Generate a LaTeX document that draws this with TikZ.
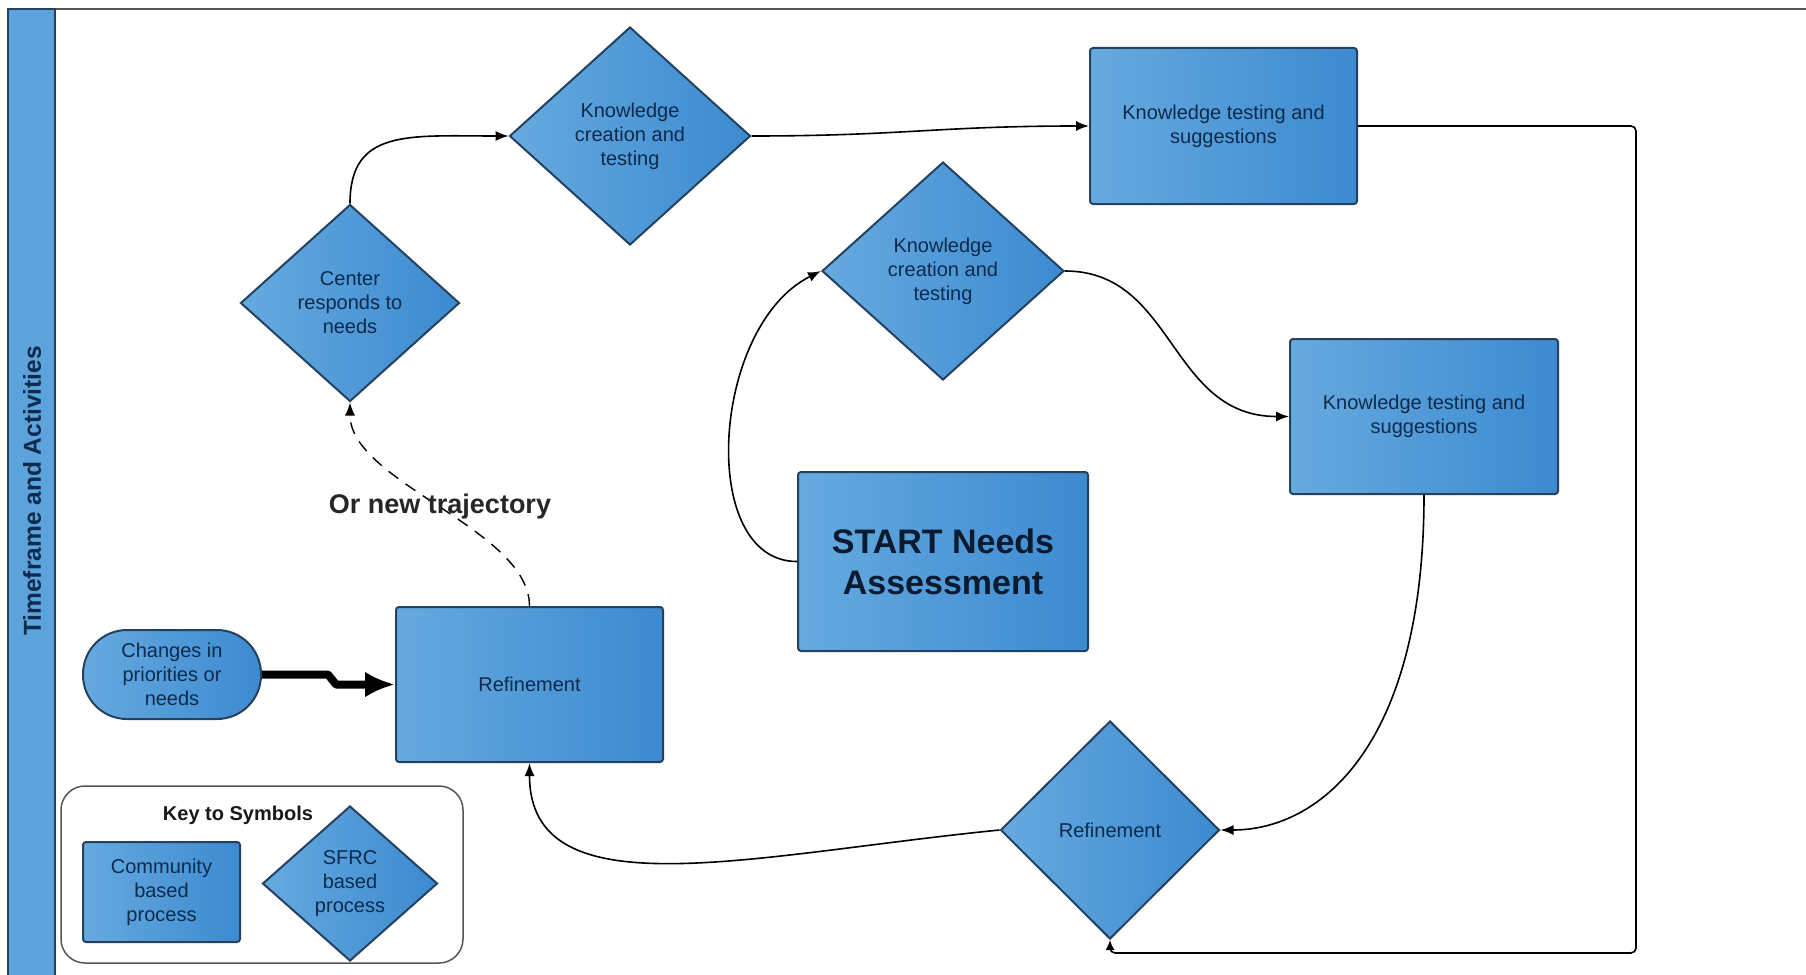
\documentclass[tikz,border=0pt]{standalone}
\usepackage{fontspec}
\setmainfont{Liberation Sans}
\usetikzlibrary{shapes.geometric,arrows.meta}
\definecolor{bl}{HTML}{66AADF}
\definecolor{br}{HTML}{3C8AD0}
\definecolor{barblue}{HTML}{5CA2DB}
\definecolor{edge}{HTML}{24425F}
\definecolor{txt}{HTML}{0E2A4C}
\definecolor{starttxt}{HTML}{0A1A30}
\definecolor{frame}{HTML}{555555}
\tikzset{
  box/.style={draw=edge, line width=2pt, rounded corners=3pt, left color=bl, right color=br,
    text=txt, font=\fontsize{20}{24}\selectfont, align=center, inner sep=0pt},
  dia/.style={diamond, draw=edge, line width=2pt, left color=bl, right color=br,
    text=txt, font=\fontsize{20}{24}\selectfont, align=center, inner sep=0pt, aspect=1},
  conn/.style={line width=1.6pt, -{Latex[length=13pt,width=10pt]}},
}
\begin{document}
\begin{tikzpicture}[x=1pt, y=-1pt]
\useasboundingbox (0,0) rectangle (1806,974);
\fill[white] (0,0) rectangle (1806,974);
% frame
\coordinate (tl) at (8,9);
\coordinate (tr) at (1806,9);
\draw[line width=2pt, frame] (tl) -- (tr);
\node[draw=edge, line width=1.5pt, fill=barblue, minimum width=47pt, minimum height=975pt, inner sep=0pt] (bar) at (31.5,496.5) {};
\node[rotate=90, font=\bfseries\fontsize{24.5}{28}\selectfont, text=txt] (bart) at (32,491) {Timeframe and Activities};

% nodes
\node[dia, minimum width=241pt, minimum height=218pt] (K1) at (630,136) {Knowledge\\creation and\\testing};
\node[box, minimum width=267pt, minimum height=156pt] (R1) at (1223.5,126) {Knowledge testing and\\suggestions};
\node[dia, minimum width=219pt, minimum height=197pt] (C) at (350,303) {Center\\responds to\\needs};
\node[dia, minimum width=242pt, minimum height=218pt] (K2) at (943,271) {Knowledge\\creation and\\testing};
\node[box, minimum width=268pt, minimum height=155pt] (R2) at (1424,416.5) {Knowledge testing and\\suggestions};
\node[box, minimum width=290pt, minimum height=179pt, text=starttxt, font=\bfseries\fontsize{34}{41}\selectfont] (S) at (943,561.5) {START Needs\\Assessment};
\node[box, minimum width=267pt, minimum height=155pt] (RF) at (529.5,684.5) {Refinement};
\node[box, rounded corners=44pt, minimum width=178pt, minimum height=89pt] (CH) at (172,674.5) {Changes in\\priorities or\\needs};
\node[dia, minimum width=219pt, minimum height=218pt] (D) at (1110,830) {Refinement};

% key
\node[draw=frame, line width=1.5pt, rounded corners=24pt, minimum width=402pt, minimum height=177pt, inner sep=0pt] (key) at (262,874.5) {};
\node[font=\bfseries\fontsize{20}{24}\selectfont, text=black!90] (keyt) at (238,815) {Key to Symbols};
\node[box, minimum width=157pt, minimum height=100pt] (comm) at (161.5,892) {Community\\based\\process};
\node[dia, minimum width=175pt, minimum height=155pt] (sfrc) at (350,883.5) {SFRC\\based\\process};

% connectors
\draw[conn] (C.north) .. controls +(0,-75) and +(-100,0) .. (K1.west);
\draw[conn] (K1.east) .. controls +(150,0) and +(-150,0) .. (R1.west);
\coordinate (lr) at (1636,953);
\draw[line width=1.6pt, rounded corners=5pt, -{Latex[length=10pt,width=9pt]}] (R1.east) -| (lr) -| (D.south);
\draw[conn] (S.west) .. controls +(-100,0) and +(-110,55) .. (K2.west);
\draw[conn] (K2.east) .. controls +(110,0) and +(-120,0) .. (R2.west);
\draw[conn] (R2.south) .. controls +(0,250) and +(100,0) .. (D.east);
\draw[conn] (D.west) .. controls +(-250,25) and +(0,150) .. (RF.south);
\draw[line width=1.4pt, dash pattern=on 12pt off 9pt, -{Latex[length=13pt,width=10pt]}] (RF.north) .. controls +(0,-77) and +(0,80) .. (C.south);
\node[font=\bfseries\fontsize{27}{32}\selectfont, text=black!85] (lab) at (440,507) {Or new trajectory};

\coordinate (s1) at (328,674.5);
\coordinate (s2) at (336,684.5);
\draw[line width=8pt, line join=round, -{Latex[length=30pt,width=26pt]}] (CH.east) -- (s1) -- (s2) -- (RF.west);
\end{tikzpicture}
\end{document}
